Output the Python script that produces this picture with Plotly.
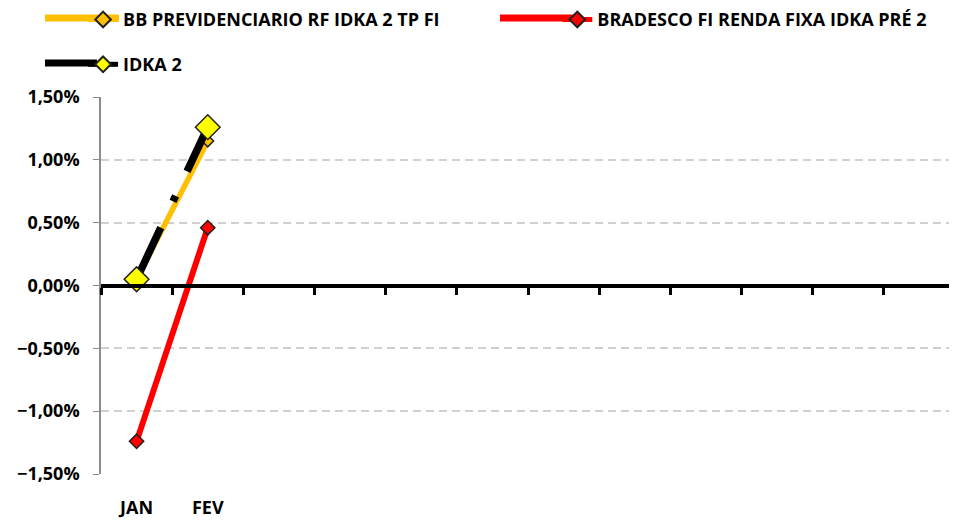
import plotly.graph_objects as go

# dados (rentabilidade mensal, %)
meses = ['JAN', 'FEV']
bb_previdenciario = [0.05, 1.15]
bradesco_idka = [-1.24, 0.46]
idka2 = [0.05, 1.26]

n_meses = 12
y_ticks = [-1.5, -1.0, -0.5, 0.0, 0.5, 1.0, 1.5]

fonte = dict(family='Open Sans', size=18, color='#000', weight='bold')
cor_bb = '#FFC000'
cor_bradesco = '#FF0000'
cor_idka = '#000'

fig = go.Figure()

# BB PREVIDENCIARIO
fig.add_trace(go.Scatter(
    x=list(range(len(meses))),
    y=[v / 100 for v in bb_previdenciario],
    mode='lines+markers',
    name='BB PREVIDENCIARIO RF IDKA 2 TP FI',
    line=dict(color=cor_bb, width=5.5),
    marker=dict(symbol='diamond', size=9, color=cor_bb,
                line=dict(color='#222', width=1.5)),
    legend='legend',
))

# BRADESCO
fig.add_trace(go.Scatter(
    x=list(range(len(meses))),
    y=[v / 100 for v in bradesco_idka],
    mode='lines+markers',
    name='BRADESCO FI RENDA FIXA IDKA PRÉ 2',
    line=dict(color=cor_bradesco, width=6),
    marker=dict(symbol='diamond', size=11, color=cor_bradesco,
                line=dict(color='#222', width=1.5)),
    legend='legend3',
))

# IDKA 2
fig.add_trace(go.Scatter(
    x=list(range(len(meses))),
    y=[v / 100 for v in idka2],
    mode='lines+markers',
    name='IDKA 2',
    line=dict(color=cor_idka, width=7.5, dash='57px,29px,6px,27px'),
    marker=dict(symbol='diamond', size=19, color='#FFFF00',
                line=dict(color='#222', width=1.5)),
    legend='legend2',
))

# eixo auxiliar na linha do zero (marcas entre categorias)
fig.add_trace(go.Scatter(x=[], y=[], xaxis='x2', showlegend=False))

leg = dict(orientation='h', xanchor='left', yanchor='top', itemsizing='constant',
           font=fonte, bgcolor='rgba(0,0,0,0)')

# linhas longas da legenda (estilo Excel)
for x0, x1, y, cor in [(-0.0656, 0.0211, 1.2095, cor_bb),
                       (0.4672, 0.5539, 1.2095, cor_bradesco),
                       (-0.0656, -0.0047, 1.0902, cor_idka)]:
    fig.add_shape(type='line', xref='paper', yref='paper',
                  x0=x0, x1=x1, y0=y, y1=y, layer='below',
                  line=dict(color=cor, width=7))

# a página tem 8px de margem no body: compensado no tamanho e nas margens
fig.update_layout(
    width=949, height=512,
    paper_bgcolor='#fff', plot_bgcolor='#fff',
    font=fonte,
    separators=',.',
    margin=dict(l=93, r=2, t=89, b=46, autoexpand=False),
    showlegend=True,
    legend=dict(leg, x=-0.021, y=1.254),
    legend2=dict(leg, x=-0.021, y=1.135),
    legend3=dict(leg, x=0.5343, y=1.254),
    xaxis=dict(
        range=[-0.5, n_meses - 0.5],
        tickvals=list(range(len(meses))), ticktext=meses,
        showline=False, showgrid=False, zeroline=False, ticks='',
        ticklabelstandoff=21,
        tickfont=fonte, fixedrange=True,
    ),
    xaxis2=dict(
        overlaying='x', anchor='free', position=0.5,
        range=[-0.5, n_meses - 0.5],
        tickvals=[i - 0.5 for i in range(n_meses + 1)],
        showticklabels=False, showgrid=False, zeroline=False,
        showline=True, linecolor='#000', linewidth=4,
        ticks='outside', ticklen=7, tickwidth=3, tickcolor='#000',
    ),
    yaxis=dict(
        range=[-0.015, 0.015],
        tickvals=[v / 100 for v in y_ticks], tickformat='.2%',
        showgrid=True, gridcolor='#d0d0d0', gridwidth=1.5, griddash='8px,5px',
        zeroline=False,
        showline=True, linecolor='#8c8c8c', linewidth=1.5,
        ticks='outside', ticklen=6, tickcolor='#8c8c8c',
        ticklabelstandoff=10,
        tickfont=fonte, fixedrange=True,
    ),
)

fig.write_html('out.html')
